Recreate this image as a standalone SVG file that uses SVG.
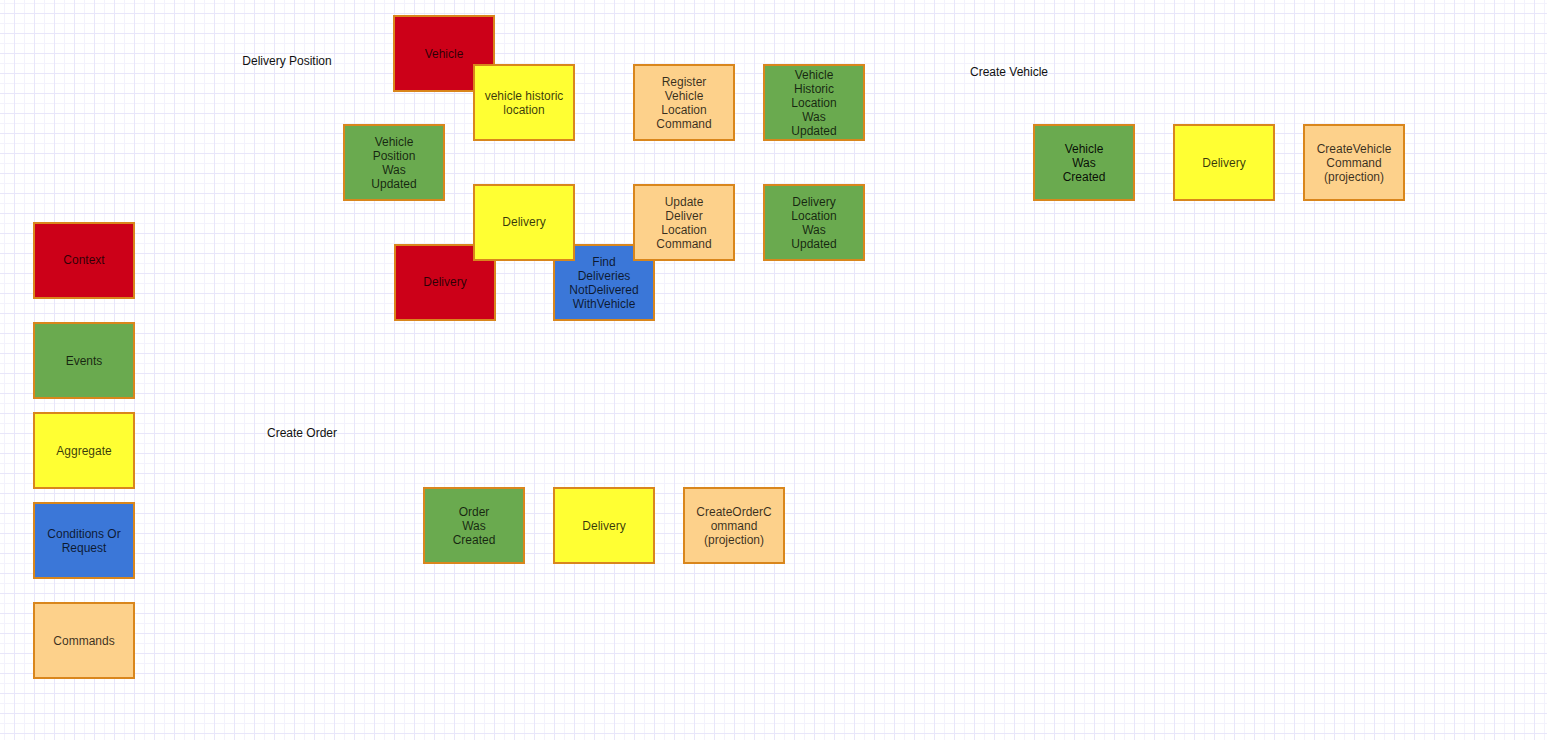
<svg xmlns="http://www.w3.org/2000/svg" width="1547" height="740" viewBox="0 0 1547 740">
<style>
.n{stroke:#d9861c;stroke-width:2}
.ctx{fill:#cc0018}.ev{fill:#6aaa4f}.ag{fill:#ffff33}.co{fill:#3b77d8}.cm{fill:#fdd18b}
text{font-family:"Liberation Sans",Arial,sans-serif;font-size:12px;text-anchor:middle}
.t{fill:#000;fill-opacity:0.78}
.lb{fill:#111}
</style>
<defs>
<pattern id="grid" patternUnits="userSpaceOnUse" width="20" height="20">
<rect width="20" height="20" fill="#ffffff"/>
<path d="M4.5 0V20M0 3.5H20" stroke="#f3f2fc" stroke-width="1" fill="none"/>
<path d="M14.5 0V20M0 13.5H20" stroke="#e8e6fa" stroke-width="1" fill="none"/>
</pattern>
</defs>
<rect width="1547" height="740" fill="url(#grid)"/>
<g id="connectors"></g>
<g id="label-delivery-position"><text class="lb" x="287" y="65">Delivery Position</text></g>
<g id="label-create-vehicle"><text class="lb" x="1009" y="76">Create Vehicle</text></g>
<g id="label-create-order"><text class="lb" x="302" y="437">Create Order</text></g>

<g id="legend-context"><rect class="n ctx" x="34" y="223" width="100" height="75"/><text class="t" x="84" y="264">Context</text></g>
<g id="legend-events"><rect class="n ev" x="34" y="323" width="100" height="75"/><text class="t" x="84" y="365">Events</text></g>
<g id="legend-aggregate"><rect class="n ag" x="34" y="413" width="100" height="75"/><text class="t" x="84" y="455">Aggregate</text></g>
<g id="legend-conditions"><rect class="n co" x="34" y="503" width="100" height="75"/><text class="t" x="84"><tspan x="84" y="538">Conditions Or</tspan><tspan x="84" y="552">Request</tspan></text></g>
<g id="legend-commands"><rect class="n cm" x="34" y="603" width="100" height="75"/><text class="t" x="84" y="645">Commands</text></g>

<g id="vehicle-context"><rect class="n ctx" x="394" y="16" width="100" height="75"/><text class="t" x="444" y="58">Vehicle</text></g>
<g id="vehicle-historic-location"><rect class="n ag" x="474" y="65" width="100" height="75"/><text class="t"><tspan x="524" y="100">vehicle historic</tspan><tspan x="524" y="114">location</tspan></text></g>
<g id="vehicle-position-was-updated"><rect class="n ev" x="344" y="125" width="100" height="75"/><text class="t"><tspan x="394" y="146">Vehicle</tspan><tspan x="394" y="160">Position</tspan><tspan x="394" y="174">Was</tspan><tspan x="394" y="188">Updated</tspan></text></g>
<g id="delivery-context"><rect class="n ctx" x="395" y="245" width="100" height="75"/><text class="t" x="445" y="286">Delivery</text></g>
<g id="find-deliveries"><rect class="n co" x="554" y="245" width="100" height="75"/><text class="t"><tspan x="604" y="266">Find</tspan><tspan x="604" y="280">Deliveries</tspan><tspan x="604" y="294">NotDelivered</tspan><tspan x="604" y="308">WithVehicle</tspan></text></g>
<g id="delivery-aggregate"><rect class="n ag" x="474" y="185" width="100" height="75"/><text class="t" x="524" y="226">Delivery</text></g>
<g id="register-vehicle-location-command"><rect class="n cm" x="634" y="65" width="100" height="75"/><text class="t"><tspan x="684" y="86">Register</tspan><tspan x="684" y="100">Vehicle</tspan><tspan x="684" y="114">Location</tspan><tspan x="684" y="128">Command</tspan></text></g>
<g id="update-deliver-location-command"><rect class="n cm" x="634" y="185" width="100" height="75"/><text class="t"><tspan x="684" y="206">Update</tspan><tspan x="684" y="220">Deliver</tspan><tspan x="684" y="234">Location</tspan><tspan x="684" y="248">Command</tspan></text></g>
<g id="vehicle-historic-location-was-updated"><rect class="n ev" x="764" y="65" width="100" height="75"/><text class="t"><tspan x="814" y="79">Vehicle</tspan><tspan x="814" y="93">Historic</tspan><tspan x="814" y="107">Location</tspan><tspan x="814" y="121">Was</tspan><tspan x="814" y="135">Updated</tspan></text></g>
<g id="delivery-location-was-updated"><rect class="n ev" x="764" y="185" width="100" height="75"/><text class="t"><tspan x="814" y="206">Delivery</tspan><tspan x="814" y="220">Location</tspan><tspan x="814" y="234">Was</tspan><tspan x="814" y="248">Updated</tspan></text></g>

<g id="vehicle-was-created"><rect class="n ev" x="1034" y="125" width="100" height="75"/><text class="t" style="fill-opacity:0.92"><tspan x="1084" y="153">Vehicle</tspan><tspan x="1084" y="167">Was</tspan><tspan x="1084" y="181">Created</tspan></text></g>
<g id="delivery-aggregate-2"><rect class="n ag" x="1174" y="125" width="100" height="75"/><text class="t" x="1224" y="167">Delivery</text></g>
<g id="create-vehicle-command"><rect class="n cm" x="1304" y="125" width="100" height="75"/><text class="t"><tspan x="1354" y="153">CreateVehicle</tspan><tspan x="1354" y="167">Command</tspan><tspan x="1354" y="181">(projection)</tspan></text></g>

<g id="order-was-created"><rect class="n ev" x="424" y="488" width="100" height="75"/><text class="t"><tspan x="474" y="516">Order</tspan><tspan x="474" y="530">Was</tspan><tspan x="474" y="544">Created</tspan></text></g>
<g id="delivery-aggregate-3"><rect class="n ag" x="554" y="488" width="100" height="75"/><text class="t" x="604" y="530">Delivery</text></g>
<g id="create-order-command"><rect class="n cm" x="684" y="488" width="100" height="75"/><text class="t"><tspan x="734" y="516">CreateOrderC</tspan><tspan x="734" y="530">ommand</tspan><tspan x="734" y="544">(projection)</tspan></text></g>
</svg>
